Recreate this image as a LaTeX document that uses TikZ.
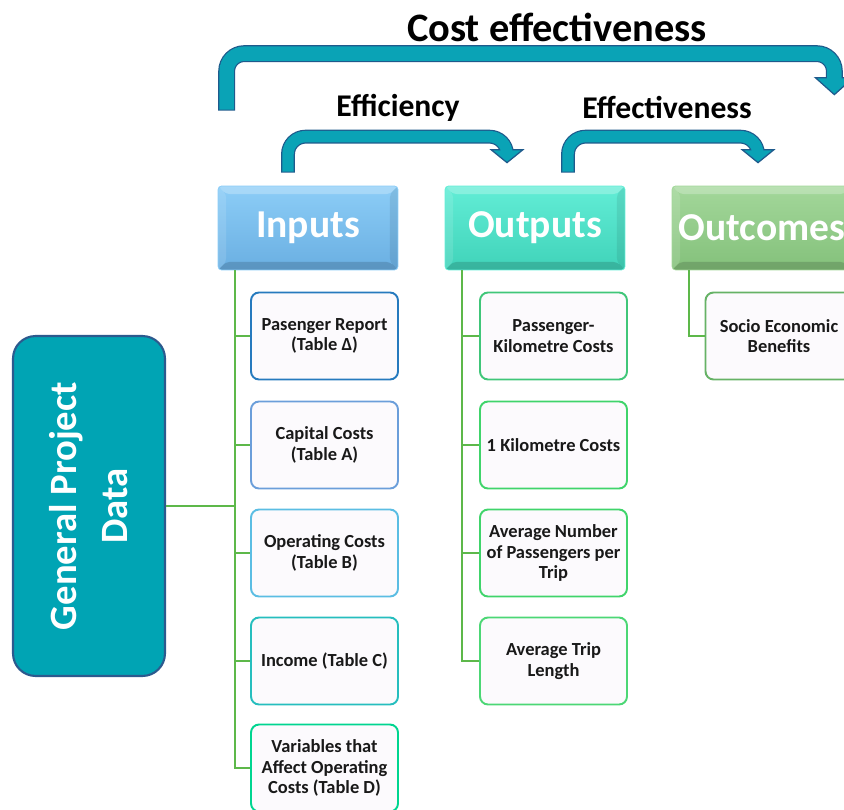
\documentclass[tikz,border=0pt]{standalone}
\usepackage{fontspec}
\setmainfont{Carlito}
\usetikzlibrary{calc}
\definecolor{band}{HTML}{0AA3B6}
\definecolor{bandline}{HTML}{1F5A8C}
\definecolor{gpdfill}{HTML}{00A4B4}
\definecolor{gpdline}{HTML}{2C5A8E}
\definecolor{treeline}{HTML}{5DB84A}
\definecolor{leaffill}{HTML}{FCFAFD}
\definecolor{inA}{HTML}{8CCDF7}
\definecolor{inB}{HTML}{6AAFE2}
\definecolor{outA}{HTML}{62EDD6}
\definecolor{outB}{HTML}{40D3B9}
\definecolor{ocA}{HTML}{A3D79A}
\definecolor{ocB}{HTML}{84C17B}

\begin{document}
\begin{tikzpicture}[x=0.02cm,y=-0.02cm,
    bevel/.style={path picture={
        \path (path picture bounding box.north west) coordinate (bv1)
              (path picture bounding box.north east) coordinate (bv2)
              (path picture bounding box.south east) coordinate (bv3)
              (path picture bounding box.south west) coordinate (bv4);
        \fill[white,opacity=.25] (bv1) -- (bv2) -- ($(bv2)+(-.16cm,-.16cm)$) -- ($(bv1)+(.16cm,-.16cm)$) -- cycle;
        \fill[white,opacity=.12] (bv1) -- (bv4) -- ($(bv4)+(.16cm,.16cm)$) -- ($(bv1)+(.16cm,-.16cm)$) -- cycle;
        \fill[black,opacity=.15] (bv4) -- (bv3) -- ($(bv3)+(-.16cm,.16cm)$) -- ($(bv4)+(.16cm,.16cm)$) -- cycle;
        \fill[black,opacity=.08] (bv3) -- (bv2) -- ($(bv2)+(-.16cm,-.16cm)$) -- ($(bv3)+(-.16cm,.16cm)$) -- cycle;}},
    header/.style={bevel,minimum width=3.6cm,minimum height=1.68cm,rounded corners=2pt,
        text=white,font=\fontsize{22.5}{26}\selectfont\bfseries},
    leaf/.style={draw,line width=1.1pt,fill=leaffill,rounded corners=0.16cm,
        minimum width=2.94cm,minimum height=1.74cm,align=center,
        text=black!90,font=\fontsize{10.5}{11.5}\selectfont\bfseries},
    gpd/.style={draw=gpdline,line width=1.2pt,fill=gpdfill,rounded corners=0.45cm,
        minimum width=6.8cm,minimum height=3.04cm,align=center,text=white,
        font=\fontsize{22}{29}\selectfont\bfseries},
    tree/.style={draw=treeline,line width=1.1pt},
    bandedge/.style={draw=bandline,rounded corners=0.35cm},
    bandfill/.style={draw=band,rounded corners=0.35cm},
    bandhead/.style={fill=band,draw=bandline,line width=0.7pt,line join=miter},
    heading/.style={font=\fontsize{18}{21}\selectfont\bfseries}]
  \useasboundingbox (0,0) rectangle (844,810);
  \clip (0,0) rectangle (844,810);

  \node[header,top color=inA,bottom color=inB,draw=inA]   (inp)  at (308,228) {Inputs};
  \node[header,top color=outA,bottom color=outB,draw=outA] (outp) at (535,228) {Outputs};
  \node[header,top color=ocA,bottom color=ocB,draw=ocA]   (outc) at (762,228) {Outcomes};

  \node[gpd,rotate=90] (gpd) at (89,506) {General Project\\Data};

  \node[leaf,draw=blue!45!cyan!70!black!85] (in1) at (324.5,336) {Pasenger Report\\(Table Δ)};
  \node[leaf,draw=cyan!55!blue!60]          (in2) at (324.5,445) {Capital Costs\\(Table A)};
  \node[leaf,draw=cyan!75!teal!70]          (in3) at (324.5,553) {Operating Costs\\(Table B)};
  \node[leaf,draw=teal!60!cyan!85]          (in4) at (324.5,661) {Income (Table C)};
  \node[leaf,draw=teal!55!green!60!cyan]    (in5) at (324.5,768) {Variables that\\Affect Operating\\Costs (Table D)};

  \node[leaf,draw=teal!60!green!75]  (out1) at (553.5,336) {Passenger-\\Kilometre Costs};
  \node[leaf,draw=teal!45!green!75]  (out2) at (553.5,445) {1 Kilometre Costs};
  \node[leaf,draw=green!55!teal!75]  (out3) at (553.5,553) {Average Number\\of Passengers per\\Trip};
  \node[leaf,draw=green!55!teal!70]  (out4) at (553.5,661) {Average Trip\\Length};

  \node[leaf,draw=green!50!black!60] (oc1) at (779,336) {Socio Economic\\Benefits};

  \coordinate (itrunk) at ($(inp.south west)+(17,0)$);
  \coordinate (otrunk) at ($(outp.south west)+(17,0)$);
  \coordinate (ctrunk) at ($(outc.south west)+(17,0)$);
  \foreach \n in {in1,in2,in3,in4,in5}
    \draw[tree] (itrunk) |- (\n.west);
  \foreach \n in {out1,out2,out3,out4}
    \draw[tree] (otrunk) |- (\n.west);
  \draw[tree] (ctrunk) |- (oc1.west);
  \draw[tree] (gpd.south) -- (gpd.south -| itrunk);

  \coordinate (bigfoot) at ($(inp.north west)+(9,-75)$);
  \coordinate (bigtip)  at ($(outc.north east)+(-18,-91)$);
  \coordinate (efffoot) at ($(inp.north)+(-20,-13)$);
  \coordinate (efftip)  at ($(outp.north)+(-28,-23)$);
  \coordinate (efvfoot) at ($(outp.north)+(33,-13)$);
  \coordinate (efvtip)  at ($(outc.north)+(-4,-23)$);
  \foreach \f/\t/\r/\hl/\hw/\bw in {bigfoot/bigtip/57/17/19/9.6,efffoot/efftip/36/13/16/7.9,efvfoot/efvtip/36/13/16/7.9}{
    \draw[bandedge,line width=\bw pt] (\f) -- ++(0,-\r) -| ($(\t)+(0,-\hl)$);
    \filldraw[bandhead] ($(\t)+(-\hw,-\hl)$) -- ($(\t)+(\hw,-\hl)$) -- (\t) -- cycle;
    \draw[bandfill,line width=\bw pt-1.4pt] ($(\f)+(0,-1)$) -- ++(0,-\r+1) -| ($(\t)+(0,-\hl+1.5)$);
  }

  \node[heading,font=\fontsize{23}{27}\selectfont\bfseries] (ce) at (557,27) {Cost effectiveness};
  \node[heading] (eff) at (398,108) {Efficiency};
  \node[heading] (efv) at (667,108) {Effectiveness};
\end{tikzpicture}
\end{document}
